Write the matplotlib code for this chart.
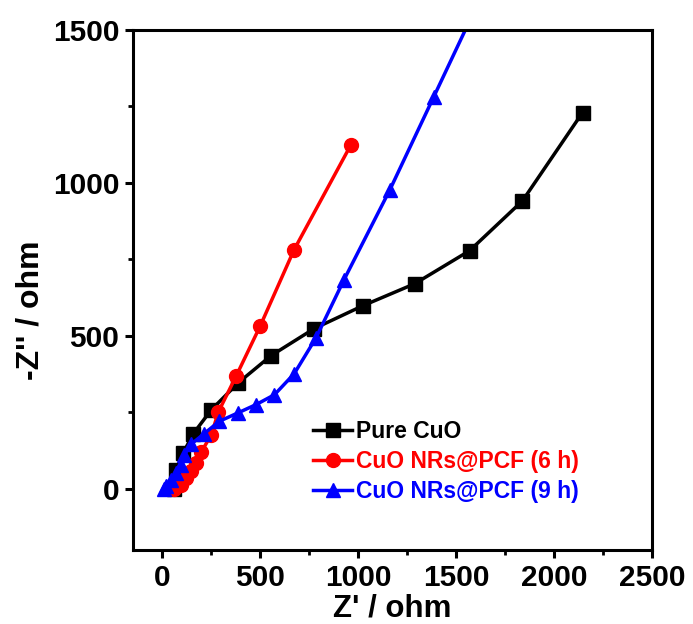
import matplotlib
matplotlib.use("Agg")
import matplotlib.pyplot as plt
from matplotlib.ticker import MultipleLocator

plt.rcParams['font.family'] = ['Liberation Sans', 'DejaVu Sans']
plt.rcParams['font.weight'] = 'bold'

labels = ["Pure CuO", "CuO NRs@PCF (6 h)", "CuO NRs@PCF (9 h)"]
colors = ["black", "red", "blue"]

x_pure = [60, 70, 107, 158, 250, 387, 555, 774, 1023, 1288, 1568, 1838, 2145]
y_pure = [0, 60, 118, 180, 258, 346, 435, 523, 598, 670, 778, 941, 1230]

x_6h = [61, 97, 122, 148, 173, 199, 250, 285, 377, 500, 672, 962]
y_6h = [0, 13, 36, 56, 85, 121, 176, 250, 369, 533, 781, 1124]

x_9h = [10, 20, 46, 71, 97, 112, 148, 214, 290, 387, 479, 572, 673, 784, 927, 1161, 1385, 1620]
y_9h = [0, 7, 29, 52, 78, 111, 146, 180, 220, 248, 275, 307, 376, 493, 683, 977, 1281, 1600]

fig = plt.figure(figsize=(6.93, 6.24), dpi=100)
ax = fig.add_axes([0.192, 0.119, 0.749, 0.833])

ax.plot(x_pure, y_pure, '-s', color=colors[0], lw=2.5, ms=9.5, label=labels[0])
ax.plot(x_6h, y_6h, '-o', color=colors[1], lw=2.5, ms=10, label=labels[1])
ax.plot(x_9h, y_9h, '-^', color=colors[2], lw=2.5, ms=10.5, label=labels[2])

ax.set_xlim(-150, 2500)
ax.set_ylim(-200, 1500)
ax.xaxis.set_major_locator(MultipleLocator(500))
ax.xaxis.set_minor_locator(MultipleLocator(250))
ax.yaxis.set_major_locator(MultipleLocator(500))
ax.yaxis.set_minor_locator(MultipleLocator(250))

for s in ax.spines.values():
    s.set_linewidth(2.2)
ax.tick_params(which='major', direction='out', length=6, width=2.2, labelsize=21.5, pad=4)
ax.tick_params(which='minor', direction='out', length=3.5, width=2)
for lab in ax.get_xticklabels() + ax.get_yticklabels():
    lab.set_fontweight('bold')

ax.set_xlabel("Z' / ohm", fontsize=22.5, fontweight='bold', labelpad=1)
ax.set_ylabel("-Z'' / ohm", fontsize=23, fontweight='bold')
ax.yaxis.set_label_coords(-0.168, 0.46)

leg = ax.legend(loc='upper left', bbox_to_anchor=(0.347, 0.25), frameon=False,
                handlelength=1.7, handletextpad=0.15, labelspacing=0.3,
                borderpad=0, borderaxespad=0, prop={'weight': 'bold', 'size': 16.5})
for t, c in zip(leg.get_texts(), colors):
    t.set_color(c)

fig.savefig("out.png", dpi=100)
